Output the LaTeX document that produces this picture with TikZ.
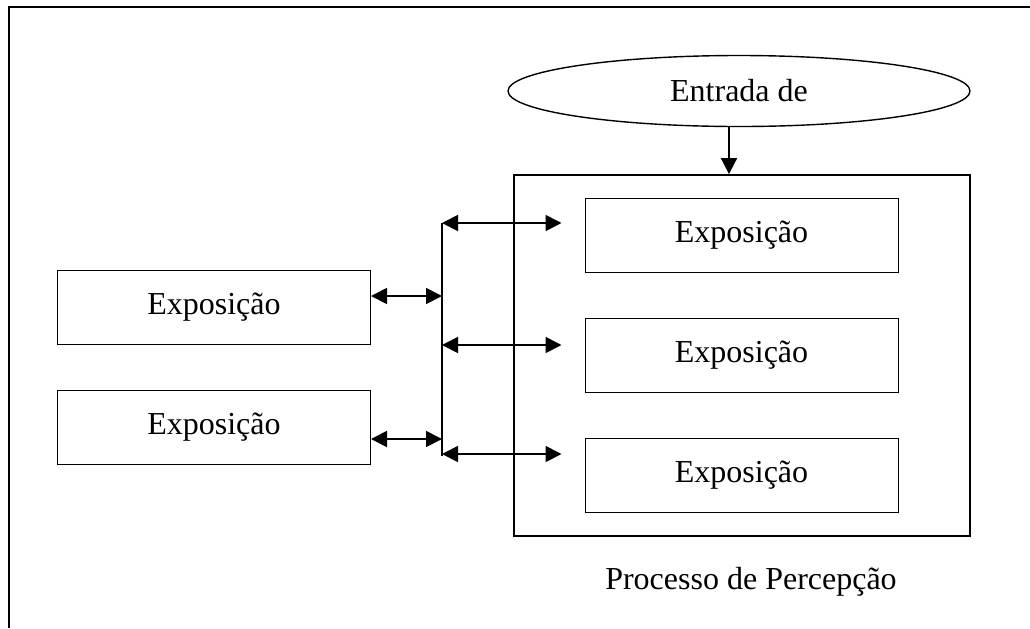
\documentclass[tikz,border=0pt]{standalone}
\usepackage{fontspec}
\setmainfont{Liberation Serif}
\usetikzlibrary{shapes.geometric,arrows.meta,positioning}

\begin{document}
\begin{tikzpicture}[x=0.5pt, y=-0.5pt, >={Triangle[length=8pt,width=8pt]}, node distance=60pt,
    every node/.style={font=\fontsize{16}{19}\selectfont},
    box/.style={draw, rectangle, line width=0.5pt, minimum width=156.5pt, minimum height=37pt, inner sep=0pt},
    link/.style={<->, line width=0.9pt}]
    \useasboundingbox (0,0) rectangle (1030,628);
    \draw[line width=0.7pt] (1030,7) -- (9,7) -- (9,628);

    \node [draw, ellipse, line width=0.7pt, minimum width=231pt, minimum height=35.5pt, inner sep=0pt] (n0) at (739,91) {Entrada de};
    \node [draw, rectangle, line width=0.9pt, minimum width=228pt, minimum height=180.5pt] (n1) at (742,355.5) {};
    \node [box] (n2) at (741.5,235) {Exposição};
    \node [box, below of = n2] (n3) {Exposição};
    \node [box, below of = n3] (n4) {Exposição};
    \node [box] (n5) at (214,307) {Exposição};
    \node [box, below of = n5] (n6) {Exposição};
    \node (n7) at (751,582) {Processo de Percepção};

    \coordinate (bus) at (442,0);
    \draw[->, line width=0.9pt] ([xshift=-5pt]n0.south) -- ([xshift=-5pt]n0.south |- n1.north);
    \draw[line width=0.9pt] ([yshift=6pt]n2.west -| bus) -- ([yshift=9.5pt]n4.west -| bus);

    \draw[link] ([yshift=6pt]n2.west -| bus) -- ([xshift=-11.5pt,yshift=6pt]n2.west);
    \draw[link] ([yshift=5pt]n3.west -| bus) -- ([xshift=-11.5pt,yshift=5pt]n3.west);
    \draw[link] ([yshift=10.5pt]n4.west -| bus) -- ([xshift=-11.5pt,yshift=10.5pt]n4.west);
    \draw[link] ([yshift=5.5pt]n5.east) -- ([yshift=5.5pt]n5.east -| bus);
    \draw[link] ([yshift=-6pt]n6.east) -- ([yshift=-6pt]n6.east -| bus);
\end{tikzpicture}
\end{document}
